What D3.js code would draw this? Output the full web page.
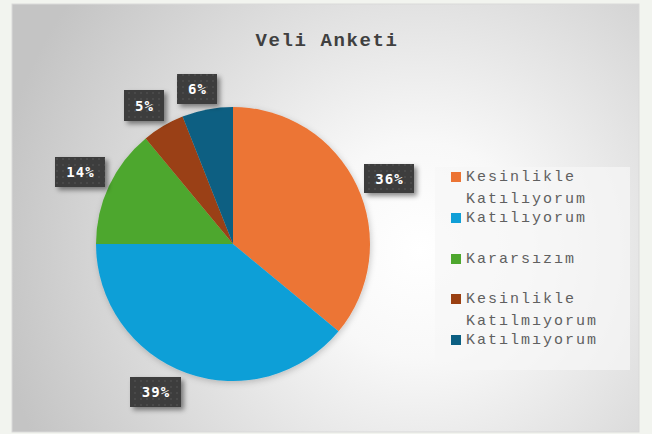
<!DOCTYPE html>
<html><head><meta charset="utf-8">
<script src="https://cdn.jsdelivr.net/npm/d3@7"></script>
<style>html,body{margin:0;padding:0;background:#f2f4ef;}svg{display:block;}</style>
</head><body>
<script>
const categories = ["Kesinlikle Katılıyorum","Katılıyorum","Kararsızım","Kesinlikle Katılmıyorum","Katılmıyorum"];
const legendLines = [["Kesinlikle","Katılıyorum"],["Katılıyorum"],["Kararsızım"],["Kesinlikle","Katılmıyorum"],["Katılmıyorum"]];
const values = [36,39,14,5,6];
const colors = ["#EC7434","#109FD7","#4EA72E","#9A4012","#0B5F82"];
const title = "Veli Anketi";

const MONO = "'Courier New', 'Nimbus Mono PS', 'Nimbus Mono L', FreeMono, Courier, 'Liberation Mono', monospace";
const W=652,H=434;
const svg=d3.select("body").append("svg").attr("width",W).attr("height",H);
const defs=svg.append("defs");
const rg=defs.append("radialGradient").attr("id","bg").attr("gradientUnits","userSpaceOnUse")
  .attr("cx",420).attr("cy",250).attr("r",430);
rg.append("stop").attr("offset","0%").attr("stop-color","#ffffff");
rg.append("stop").attr("offset","25%").attr("stop-color","#f8f8f8");
rg.append("stop").attr("offset","100%").attr("stop-color","#c4c4c4");
const pat=defs.append("pattern").attr("id","dots").attr("patternUnits","userSpaceOnUse").attr("width",6).attr("height",6);
pat.append("rect").attr("width",6).attr("height",6).attr("fill","#3c3c3c");
pat.append("circle").attr("cx",3).attr("cy",3).attr("r",1).attr("fill","#4f4f4f");
const sh=defs.append("filter").attr("id","sh").attr("x","-30%").attr("y","-30%").attr("width","170%").attr("height","170%");
sh.append("feDropShadow").attr("dx",3).attr("dy",3).attr("stdDeviation",2.5).attr("flood-color","#000").attr("flood-opacity",0.45);
const sh2=defs.append("filter").attr("id","sh2").attr("x","-20%").attr("y","-20%").attr("width","140%").attr("height","140%");
sh2.append("feDropShadow").attr("dx",1).attr("dy",2).attr("stdDeviation",3).attr("flood-color","#000").attr("flood-opacity",0.2);

// chart area
svg.append("rect").attr("x",12).attr("y",4).attr("width",627).attr("height",428).attr("fill","url(#bg)")
  .attr("stroke","#d9d9d9").attr("stroke-width",1);

svg.append("text").attr("x",327).attr("y",46).attr("text-anchor","middle")
  .attr("font-family",MONO).attr("font-weight","bold")
  .attr("font-size",19).attr("letter-spacing",1.6).attr("fill","#404040").text(title);

// pie
const cx=233,cy=244,R=137;
const pie=d3.pie().sort(null).value(d=>d)(values);
const arc=d3.arc().innerRadius(0).outerRadius(R);
const g=svg.append("g").attr("transform",`translate(${cx},${cy})`);
g.append("g").attr("filter","url(#sh2)").selectAll("path").data(pie).join("path")
  .attr("d",arc).attr("fill",(d,i)=>colors[i]);

// data labels
const labelBoxes=[[364,164,50,29],[130,377,51,30],[55,157,50,30],[124,90,40,31],[177,74,40,30]];
const lg=svg.append("g");
const total=d3.sum(values);
pie.forEach((d,i)=>{
  const b=labelBoxes[i];
  lg.append("rect").attr("x",b[0]).attr("y",b[1]).attr("width",b[2]).attr("height",b[3])
    .attr("fill","url(#dots)").attr("filter","url(#sh)");
  lg.append("text").attr("x",b[0]+b[2]/2+0.5).attr("y",b[1]+b[3]/2+5)
    .attr("text-anchor","middle").attr("font-family","DejaVu Sans Mono, monospace").attr("font-weight","bold")
    .attr("font-size",14).attr("letter-spacing",1).attr("fill","#ffffff")
    .text(Math.round(d.value/total*100)+"%");
});

// legend
svg.append("rect").attr("x",435).attr("y",167).attr("width",195).attr("height",203).attr("fill","#f6f6f6").attr("opacity",0.7);
const legTop=[181,222,263,303,344];
const leg=svg.append("g");
legendLines.forEach((lines,i)=>{
  leg.append("rect").attr("x",451).attr("y",legTop[i]-9).attr("width",10).attr("height",10).attr("fill",colors[i]);
  lines.forEach((t,j)=>{
    leg.append("text").attr("x",466).attr("y",legTop[i]+j*22)
      .attr("font-family",MONO).attr("font-size",15)
      .attr("letter-spacing",2).attr("fill","#606060").text(t);
  });
});
</script>
</body></html>
